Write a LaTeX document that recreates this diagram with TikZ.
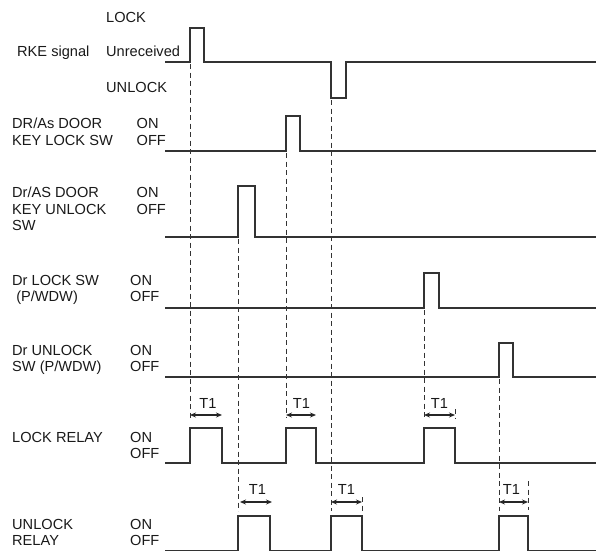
\documentclass[tikz,border=0pt]{standalone}
\usepackage{fontspec}
\setmainfont{Liberation Sans}
\usetikzlibrary{arrows.meta}
\begin{document}
\begin{tikzpicture}[x=1pt,y=-1pt,
  lbl/.style={anchor=base west,inner sep=0pt,text=black!90,font=\fontsize{14.6}{16}\selectfont},
  sig/.style={line width=1.25pt,black!80},
  guide/.style={line width=0.85pt,dash pattern=on 5pt off 3.5pt,black!80},
  tarr/.style={line width=1.5pt,black!85,{Stealth[length=6pt,width=5pt]}-{Stealth[length=6pt,width=5pt]}},
]
\useasboundingbox (0,0) rectangle (596,552);

% ---------- labels ----------
\node[lbl] (rke)   at (17,56)  {RKE signal};
\node[lbl] (rkel)  at (106,22.7) {LOCK};
\node[lbl] (rkeu)  at (106,56) {Unreceived};
\node[lbl] (rkeun) at (106,92.7) {UNLOCK};

\node[lbl] (kl1) at (12,128.3) {DR/As DOOR};
\node[lbl] (kl2) at (12,145)   {KEY LOCK SW};
\node[lbl] (klon)  at (136.5,128.3) {ON};
\node[lbl] (kloff) at (136.5,145)   {OFF};

\node[lbl] (ku1) at (12,197.3) {Dr/AS DOOR};
\node[lbl] (ku2) at (12,214)   {KEY UNLOCK};
\node[lbl] (ku3) at (12,230.7) {SW};
\node[lbl] (kuon)  at (136.5,197.3) {ON};
\node[lbl] (kuoff) at (136.5,214)   {OFF};

\node[lbl] (dl1) at (12,285)   {Dr LOCK SW};
\node[lbl] (dl2) at (12,301.5) {\ (P/WDW)};
\node[lbl] (dlon)  at (130,285)   {ON};
\node[lbl] (dloff) at (130,301.5) {OFF};

\node[lbl] (du1) at (12,355)   {Dr UNLOCK};
\node[lbl] (du2) at (12,371.7) {SW (P/WDW)};
\node[lbl] (duon)  at (130,355)   {ON};
\node[lbl] (duoff) at (130,371.7) {OFF};

\node[lbl] (lr1) at (12,442.3) {LOCK RELAY};
\node[lbl] (lron)  at (130,442.3) {ON};
\node[lbl] (lroff) at (130,458.5) {OFF};

\node[lbl] (ur1) at (12,529)   {UNLOCK};
\node[lbl] (ur2) at (12,545.3) {RELAY};
\node[lbl] (uron)  at (130,529.5) {ON};
\node[lbl] (uroff) at (130,545.7) {OFF};

% ---------- waveforms ----------
\draw[sig] (165,62) -- (190,62) -- (190,28) -- (204,28) -- (204,62) -- (331,62) -- (331,98) -- (346,98) -- (346,62) -- (596,62);
\draw[sig] (165,151) -- (286,151) -- (286,116) -- (300,116) -- (300,151) -- (596,151);
\draw[sig] (165,237) -- (238,237) -- (238,186) -- (255,186) -- (255,237) -- (596,237);
\draw[sig] (165,308) -- (424,308) -- (424,273) -- (439,273) -- (439,308) -- (596,308);
\draw[sig] (165,377) -- (499,377) -- (499,343) -- (513,343) -- (513,377) -- (596,377);
\draw[sig] (165,463) -- (190,463) -- (190,428) -- (222,428) -- (222,463)
  -- (286,463) -- (286,428) -- (316,428) -- (316,463)
  -- (424,463) -- (424,428) -- (455,428) -- (455,463) -- (596,463);
\draw[sig] (165,550.5) -- (238,550.5) -- (238,516) -- (270,516) -- (270,550.5)
  -- (331,550.5) -- (331,516) -- (362,516) -- (362,550.5)
  -- (499,550.5) -- (499,516) -- (528,516) -- (528,550.5) -- (596,550.5);

% ---------- guide lines ----------
\draw[guide] (190,64) -- (190,418);
\draw[guide] (238,239) -- (238,511);
\draw[guide] (286,153) -- (286,418);
\draw[guide] (331,100) -- (331,511);
\draw[guide] (424,310) -- (424,418);
\draw[guide] (499,379) -- (499,511);
\draw[guide] (455,409) -- (455,418);
\draw[guide] (362,497) -- (362,512);
\draw[guide] (528,481) -- (528,510);

% ---------- T1 arrows ----------
\coordinate (a1s) at (190,415); \coordinate (a1e) at (222,415);
\coordinate (a2s) at (286,415); \coordinate (a2e) at (316,415);
\coordinate (a3s) at (424,415); \coordinate (a3e) at (455,415);
\coordinate (b1s) at (240,502); \coordinate (b1e) at (272,502);
\coordinate (b2s) at (331,502); \coordinate (b2e) at (362,502);
\coordinate (b3s) at (499,502); \coordinate (b3e) at (528,502);
\foreach \s/\e in {a1s/a1e,a2s/a2e,a3s/a3e,b1s/b1e,b2s/b2e,b3s/b3e}
  \draw[tarr] (\s) -- (\e);

\node[lbl,anchor=base] (t1) at (208,408.3) {T1};
\node[lbl,anchor=base] (t2) at (301.5,408.3) {T1};
\node[lbl,anchor=base] (t3) at (439.5,408.3) {T1};
\node[lbl,anchor=base] (t4) at (257.5,494) {T1};
\node[lbl,anchor=base] (t5) at (346.5,494) {T1};
\node[lbl,anchor=base] (t6) at (511.5,494) {T1};
\end{tikzpicture}
\end{document}
